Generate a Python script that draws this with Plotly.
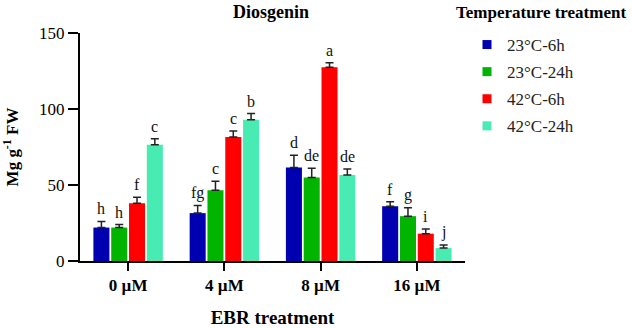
import plotly.graph_objects as go

categories = ["0 µM", "4 µM", "8 µM", "16 µM"]
series_names = ["23°C-6h", "23°C-24h", "42°C-6h", "42°C-24h"]
values = {
    "23°C-6h": [22, 31.5, 61.5, 36],
    "23°C-24h": [22, 46.5, 55, 29.5],
    "42°C-6h": [38, 81.5, 127.5, 18],
    "42°C-24h": [76.5, 93, 56.5, 8.5],
}
errors = {
    "23°C-6h": [4, 5, 8, 3],
    "23°C-24h": [2, 6, 6, 5.5],
    "42°C-6h": [4, 4, 3, 3],
    "42°C-24h": [4, 4, 4, 2],
}
letters = {
    "23°C-6h": ["h", "fg", "d", "f"],
    "23°C-24h": ["h", "c", "de", "g"],
    "42°C-6h": ["f", "c", "a", "i"],
    "42°C-24h": ["c", "b", "de", "j"],
}
colors = ["#0000B0", "#00B400", "#FF0000", "#48EBB2"]

SERIF = "Liberation Serif, Times New Roman, serif"
BARGAP = 0.26

fig = go.Figure()
for i, name in enumerate(series_names):
    fig.add_trace(go.Bar(
        x=categories, y=values[name], name=name,
        marker=dict(color=colors[i], line=dict(width=0)),
        error_y=dict(type="data", array=errors[name], arrayminus=[0]*4,
                     symmetric=False, color="#222222", thickness=1.5, width=4),
        showlegend=False,
    ))
# legend entries (small square keys)
for i, name in enumerate(series_names):
    fig.add_trace(go.Scatter(
        x=[None], y=[None], mode="markers", name=name, legendgroup=name,
        marker=dict(symbol="square", size=9, color=colors[i]),
    ))

n = len(series_names)
slot = (1 - BARGAP) / n
for i, name in enumerate(series_names):
    off = -(1 - BARGAP) / 2 + slot * (i + 0.5)
    for j in range(len(categories)):
        fig.add_annotation(
            x=j + off, y=values[name][j] + errors[name][j], xref="x", yref="y",
            text=letters[name][j], showarrow=False, yanchor="bottom", yshift=2,
            font=dict(family=SERIF, size=16, color="#111111"),
        )

# legend heading (plot area spans x 80..465, y 33..261 px)
fig.add_annotation(
    x=(541 - 80) / 385, y=(261 - 13) / 228, xref="paper", yref="paper",
    text="<b>Temperature treatment</b>", showarrow=False,
    xanchor="center", yanchor="middle",
    font=dict(family=SERIF, size=17, color="black"),
)

fig.update_layout(
    width=632, height=328,
    margin=dict(l=80, r=167, t=33, b=67, autoexpand=False),
    paper_bgcolor="white", plot_bgcolor="white",
    barmode="group", bargap=BARGAP, bargroupgap=0.1,
    title=dict(text="<b>Diosgenin</b>", x=271/632, xanchor="center", y=1 - 12/328, yanchor="middle",
               font=dict(family=SERIF, size=18, color="black")),
    showlegend=True,
    legend=dict(x=(467 - 80) / 385, y=(261 - 27) / 228, xanchor="left", yanchor="top",
                traceorder="grouped", tracegroupgap=2, itemsizing="trace",
                font=dict(family=SERIF, size=17, color="#222222"),
                bgcolor="rgba(0,0,0,0)"),
    font=dict(family=SERIF, color="black"),
)
fig.update_xaxes(
    range=[-0.5, 3.5], showline=True, linecolor="black", linewidth=2,
    ticks="outside", ticklen=8, tickwidth=2, tickcolor="black",
    tickfont=dict(family=SERIF, size=17, color="black"),
    tickprefix="<b>", ticksuffix="</b>",
    title=dict(text="<b>EBR treatment</b>", font=dict(family=SERIF, size=19, color="black"), standoff=16),
    showgrid=False, zeroline=False,
)
fig.update_yaxes(
    range=[0, 150], tickvals=[0, 50, 100, 150], showline=True, linecolor="black", linewidth=2,
    ticks="outside", ticklen=10, tickwidth=2, tickcolor="black",
    tickfont=dict(family=SERIF, size=17, color="black"),
    tickprefix="<b>", ticksuffix="</b>",
    title=dict(text="<b>Mg g<sup>-1</sup> FW</b>", font=dict(family=SERIF, size=17, color="black"), standoff=18),
    showgrid=False, zeroline=False,
)

fig.write_html("out.html", config={"displayModeBar": False},
               post_script="document.body.style.margin='0';")
